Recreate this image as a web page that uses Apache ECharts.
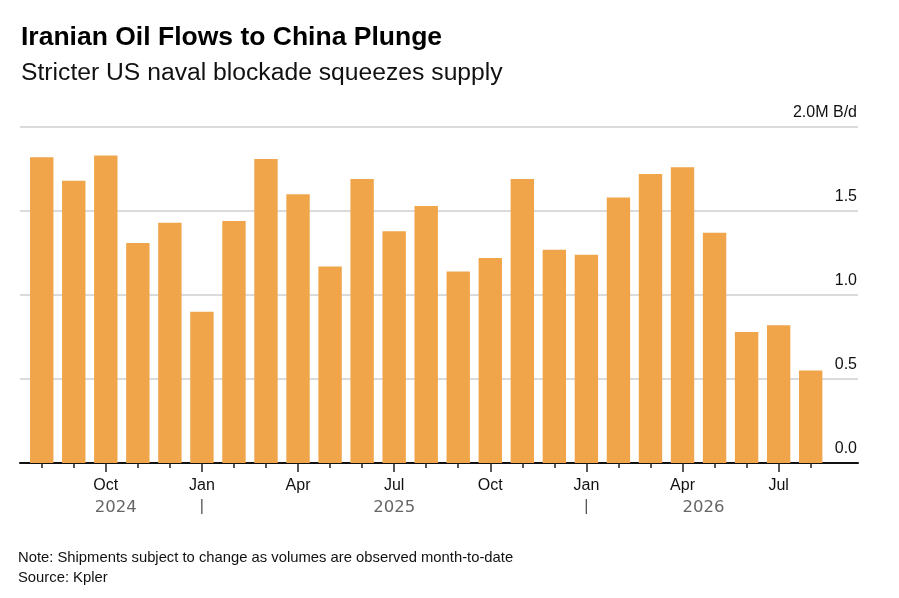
<!DOCTYPE html>
<html>
<head>
<meta charset="utf-8">
<script src="https://cdn.jsdelivr.net/npm/echarts@6/dist/echarts.min.js"></script>
<style>
  html, body { margin: 0; padding: 0; background: #fff; }
  #chart { width: 899px; height: 598px; }
</style>
</head>
<body>
<div id="chart"></div>
<script>
// 数据
var months = ['Aug 2024', 'Sep 2024', 'Oct 2024', 'Nov 2024', 'Dec 2024',
    'Jan 2025', 'Feb 2025', 'Mar 2025', 'Apr 2025', 'May 2025', 'Jun 2025',
    'Jul 2025', 'Aug 2025', 'Sep 2025', 'Oct 2025', 'Nov 2025', 'Dec 2025',
    'Jan 2026', 'Feb 2026', 'Mar 2026', 'Apr 2026', 'May 2026', 'Jun 2026',
    'Jul 2026', 'Aug 2026'];
var flows = [1.82, 1.68, 1.83, 1.31, 1.43, 0.90, 1.44, 1.81, 1.60, 1.17, 1.69,
    1.38, 1.53, 1.14, 1.22, 1.69, 1.27, 1.24, 1.58, 1.72, 1.76, 1.37, 0.78,
    0.82, 0.55];
var monthLabels = ['', '', 'Oct', '', '', 'Jan', '', '', 'Apr', '', '', 'Jul', '',
    '', 'Oct', '', '', 'Jan', '', '', 'Apr', '', '', 'Jul', ''];
var yearLabels = ['', '', '2024', '', '', '|', '', '', '', '', '', '2025', '',
    '', '', '', '', '|', '', '', '2026', '', '', '', ''];
var yTicks = ['0.0', '0.5', '1.0', '1.5', '2.0M B/d'];

var FONT = '"Liberation Sans", Arial, sans-serif';
var YEAR_FONT = '"DejaVu Sans", sans-serif';
var chart = echarts.init(document.getElementById('chart'));

var gridTop = 127, gridBottom = 135;

var option = {
    backgroundColor: '#fff',
    animation: false,
    title: [{
        text: 'Iranian Oil Flows to China Plunge',
        left: 21,
        top: 24,
        padding: 0,
        textStyle: { fontFamily: FONT, fontSize: 26.5, fontWeight: 'bold', color: '#000' }
    }, {
        text: 'Stricter US naval blockade squeezes supply',
        left: 21,
        top: 61,
        padding: 0,
        textStyle: { fontFamily: FONT, fontSize: 24.7, fontWeight: 'normal', color: '#111' }
    }, {
        text: 'Note: Shipments subject to change as volumes are observed month-to-date\nSource: Kpler',
        left: 18,
        top: 548,
        padding: 0,
        textStyle: { fontFamily: FONT, fontSize: 14.8, fontWeight: 'normal', color: '#111', lineHeight: 20 }
    }],
    grid: [
        { left: 20, right: 41, top: gridTop, bottom: gridBottom },
        { left: 25.7, right: 72.3, top: gridTop, bottom: gridBottom }
    ],
    xAxis: [{
        gridIndex: 0,
        type: 'value',
        position: 'bottom',
        min: 0,
        max: 1,
        axisLine: { show: true, onZero: false, lineStyle: { color: '#111', width: 2 } },
        axisTick: { show: false },
        axisLabel: { show: false },
        splitLine: { show: false }
    }, {
        gridIndex: 1,
        type: 'category',
        position: 'bottom',
        data: months,
        axisLine: { show: false },
        axisTick: {
            show: true, alignWithLabel: true, interval: 0, length: 5,
            lineStyle: { color: '#222', width: 1.5 }
        },
        axisLabel: {
            interval: 0,
            margin: 15,
            fontFamily: FONT,
            fontSize: 16,
            color: '#111',
            formatter: function (v, i) { return monthLabels[i]; }
        }
    }, {
        gridIndex: 1,
        type: 'category',
        position: 'bottom',
        data: months,
        axisLine: { show: false },
        axisTick: {
            show: true, alignWithLabel: true, length: 9,
            interval: function (i) { return monthLabels[i] !== ''; },
            lineStyle: { color: '#222', width: 1.5 }
        },
        axisLabel: { show: false }
    }, {
        gridIndex: 1,
        type: 'category',
        position: 'bottom',
        data: months,
        axisLine: { show: false },
        axisTick: { show: false },
        axisLabel: {
            interval: 0,
            margin: 36,
            fontFamily: YEAR_FONT,
            fontSize: 16.5,
            color: '#666',
            formatter: function (v, i) {
                var t = yearLabels[i];
                if (t === '') return '';
                if (t === '|') return '{sep|' + t + '}';
                if (t === '2024') return '{y24|' + t + '}';
                if (t === '2026') return '{y26|' + t + '}';
                return '{y|' + t + '}';
            },
            rich: {
                y: { fontFamily: YEAR_FONT, fontSize: 16.5, color: '#666' },
                y24: { fontFamily: YEAR_FONT, fontSize: 16.5, color: '#666', padding: [0, 0, 0, 20] },
                y26: { fontFamily: YEAR_FONT, fontSize: 16.5, color: '#666', padding: [0, 0, 0, 42] },
                sep: { fontFamily: FONT, fontSize: 16, color: '#555' }
            }
        }
    }],
    yAxis: [{
        gridIndex: 0,
        type: 'value',
        position: 'right',
        min: 0,
        max: 2,
        interval: 0.5,
        axisLine: { show: false },
        axisTick: { show: false },
        splitLine: { show: true, lineStyle: { color: '#cfcfcf', width: 1.5 } },
        axisLabel: {
            inside: true,
            margin: 1,
            verticalAlign: 'bottom',
            padding: [0, 0, 6, 0],
            fontFamily: FONT,
            fontSize: 16,
            color: '#111',
            formatter: function (v) { return yTicks[Math.round(v / 0.5)]; }
        }
    }, {
        gridIndex: 1,
        type: 'value',
        min: 0,
        max: 2,
        show: false
    }],
    series: [{
        type: 'bar',
        xAxisIndex: 1,
        yAxisIndex: 1,
        data: flows,
        barCategoryGap: '27%',
        itemStyle: { color: '#F0A54A' },
        z: 1
    }]
};

chart.setOption(option);
</script>
</body>
</html>
